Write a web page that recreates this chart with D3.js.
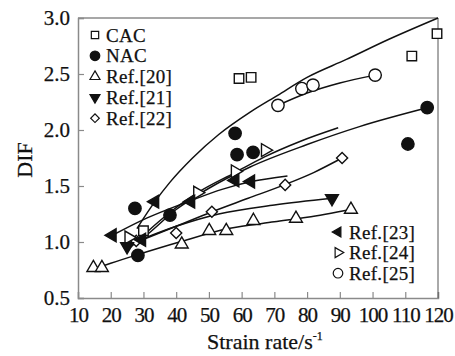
<!DOCTYPE html>
<html>
<head>
<meta charset="utf-8">
<script src="https://cdn.jsdelivr.net/npm/d3@7"></script>
<style>
  html, body { margin: 0; padding: 0; background: #fff; }
  svg text { font-family: "Liberation Serif", "Times New Roman", Tinos, "DejaVu Serif", serif !important; }
</style>
</head>
<body>
<svg id="chart" width="455" height="356"></svg>
<script>
// Axis ticks
const xTicks = [10, 20, 30, 40, 50, 60, 70, 80, 90, 100, 110, 120];
const yTicks = [0.5, 1.0, 1.5, 2.0, 2.5, 3.0];

// Measured points (strain rate, DIF)
const cacX = [30, 59.2, 62.9, 112, 119.7];
const cacY = [1.10, 2.46, 2.47, 2.66, 2.86];
const nacX = [27.4, 28.3, 38.1, 58, 58.6, 63.5, 110.8, 116.7];
const nacY = [1.30, 0.88, 1.24, 1.97, 1.78, 1.80, 1.875, 2.20];
const ref20X = [14.7, 17.3, 41.7, 50.1, 55.3, 63.6, 76.6, 93.4];
const ref20Y = [0.77, 0.77, 0.98, 1.10, 1.10, 1.19, 1.21, 1.29];
const ref21X = [25, 87.6];
const ref21Y = [0.96, 1.39];
const ref22X = [27.8, 40, 50.9, 73.3, 90.7];
const ref22Y = [1.01, 1.08, 1.27, 1.51, 1.75];
const ref23X = [20.5, 29.5, 33.5, 44.5, 58, 62.8];
const ref23Y = [1.06, 1.02, 1.36, 1.36, 1.55, 1.54];
const ref24X = [25.5, 46.5, 58, 67.2];
const ref24Y = [1.04, 1.44, 1.63, 1.82];
const ref25X = [71.1, 78.4, 81.8, 100.8];
const ref25Y = [2.22, 2.37, 2.40, 2.49];

// Fitted trend curves (strain rate, DIF)
const cacFitX = [28, 33.5, 38, 45, 53, 62.6, 71, 80, 92, 105, 120];
const cacFitY = [1.12, 1.36, 1.53, 1.75, 1.96, 2.16, 2.31, 2.47, 2.63, 2.81, 3.0];
const nacFitX = [27, 30, 40, 50, 62.6, 80, 96, 117];
const nacFitY = [0.98, 1.04, 1.29, 1.48, 1.67, 1.87, 2.03, 2.20];
const ref20FitX = [14, 20, 28, 41, 56, 70, 80, 93.4];
const ref20FitY = [0.75, 0.81, 0.885, 1.0, 1.12, 1.18, 1.22, 1.29];
const ref21FitX = [25, 30, 40, 53, 70, 87.6];
const ref21FitY = [0.97, 1.03, 1.14, 1.25, 1.33, 1.39];
const ref22FitX = [28, 40, 51, 62, 73, 82, 90.7];
const ref22FitY = [1.0, 1.14, 1.27, 1.39, 1.51, 1.62, 1.75];
const ref23FitX = [20.5, 30, 44.5, 54, 63, 74];
const ref23FitY = [1.06, 1.20, 1.37, 1.47, 1.54, 1.59];
const ref24FitX = [26, 35, 46.5, 58, 67, 78, 89.5];
const ref24FitY = [0.95, 1.19, 1.44, 1.62, 1.76, 1.90, 2.02];
const ref25FitX = [71.1, 80, 90, 100.8];
const ref25FitY = [2.22, 2.33, 2.42, 2.49];

const legendA = ["CAC", "NAC", "Ref.[20]", "Ref.[21]", "Ref.[22]"];
const legendB = ["Ref.[23]", "Ref.[24]", "Ref.[25]"];

const xTitle = "Strain rate/s";
const yTitle = "DIF";

const FONT = '"Liberation Serif", "Times New Roman", Tinos, "DejaVu Serif", serif';
const INK = "#111";

const svg = d3.select("#chart");
const W = 455, H = 356;
const m = { left: 78, top: 18, right: 17, bottom: 58 };

const x = d3.scaleLinear().domain([10, 120]).range([m.left, W - m.right]);
const y = d3.scaleLinear().domain([0.5, 3.0]).range([H - m.bottom, m.top]);

const frameColor = "#8a8a8a";

// Axes with inward ticks
const gx = svg.append("g")
  .attr("transform", `translate(0,${H - m.bottom})`)
  .call(d3.axisBottom(x).tickValues(xTicks).tickSize(-6).tickPadding(9).tickFormat(d3.format("d")));
const gy = svg.append("g")
  .attr("transform", `translate(${m.left},0)`)
  .call(d3.axisLeft(y).tickValues(yTicks).tickSize(-6).tickPadding(8).tickFormat(d3.format(".1f")));

[gx, gy].forEach(g => {
  g.attr("font-family", FONT);
  g.select(".domain").attr("stroke", frameColor).attr("stroke-width", 1.5);
  g.selectAll(".tick line").attr("stroke", frameColor).attr("stroke-width", 1.2);
  g.selectAll(".tick text")
    .attr("fill", INK)
    .attr("stroke", INK).attr("stroke-width", 0.25)
    .style("font-size", "21px");
});
gx.selectAll(".tick text").attr("letter-spacing", "-1px");

// Top and right frame lines
svg.append("line")
  .attr("x1", x(10)).attr("x2", x(120)).attr("y1", y(3.0)).attr("y2", y(3.0))
  .attr("stroke", frameColor).attr("stroke-width", 1.5);
svg.append("line")
  .attr("x1", x(120)).attr("x2", x(120)).attr("y1", y(3.0)).attr("y2", y(0.5))
  .attr("stroke", "#555").attr("stroke-width", 1);

// Axis titles
const xt = svg.append("text")
  .attr("x", 207).attr("y", 349)
  .attr("fill", INK).attr("stroke", INK).attr("stroke-width", 0.25)
  .style("font-size", "22px");
xt.append("tspan").text(xTitle);
xt.append("tspan").attr("dy", -9).style("font-size", "12px").text("-1");

svg.append("text")
  .attr("transform", `translate(32,${(y(1.5) + y(2.0)) / 2 + 2}) rotate(-90)`)
  .attr("text-anchor", "middle")
  .attr("fill", INK).attr("stroke", INK).attr("stroke-width", 0.25)
  .style("font-size", "22px")
  .text(yTitle);

// Trend curves
const line = d3.line().x(d => x(d[0])).y(d => y(d[1])).curve(d3.curveMonotoneX);
const fits = [
  [cacFitX, cacFitY], [nacFitX, nacFitY], [ref20FitX, ref20FitY], [ref21FitX, ref21FitY],
  [ref22FitX, ref22FitY], [ref23FitX, ref23FitY], [ref24FitX, ref24FitY], [ref25FitX, ref25FitY]
];
svg.append("g").selectAll("path")
  .data(fits)
  .join("path")
  .attr("d", f => line(d3.zip(f[0], f[1])))
  .attr("fill", "none")
  .attr("stroke", INK)
  .attr("stroke-width", 1.5);

// Marker styles
const styles = {
  cac:   { type: d3.symbolSquare,   size: 90,  rot: 0,   fill: "#fff" },
  nac:   { type: d3.symbolCircle,   size: 120, rot: 0,   fill: INK },
  ref20: { type: d3.symbolTriangle, size: 72,  rot: 0,   fill: "#fff" },
  ref21: { type: d3.symbolTriangle, size: 72,  rot: 180, fill: INK },
  ref22: { type: d3.symbolSquare,   size: 62,  rot: 45,  fill: "#fff" },
  ref23: { type: d3.symbolTriangle, size: 72,  rot: -90, fill: INK },
  ref24: { type: d3.symbolTriangle, size: 72,  rot: 90,  fill: "#fff" },
  ref25: { type: d3.symbolCircle,   size: 120, rot: 0,   fill: "#fff" }
};

function drawMarkers(xs, ys, st) {
  svg.append("g").selectAll("path")
    .data(d3.zip(xs, ys))
    .join("path")
    .attr("d", d3.symbol().type(st.type).size(st.size))
    .attr("transform", d => `translate(${x(d[0])},${y(d[1])}) rotate(${st.rot})`)
    .attr("fill", st.fill)
    .attr("stroke", INK)
    .attr("stroke-width", 1.4);
}

drawMarkers(ref20X, ref20Y, styles.ref20);
drawMarkers(ref22X, ref22Y, styles.ref22);
drawMarkers(ref24X, ref24Y, styles.ref24);
drawMarkers(ref25X, ref25Y, styles.ref25);
drawMarkers(cacX, cacY, styles.cac);
drawMarkers(ref21X, ref21Y, styles.ref21);
drawMarkers(ref23X, ref23Y, styles.ref23);
drawMarkers(nacX, nacY, styles.nac);

// Legends
function drawLegend(labels, keys, mx, tx, y0, dy) {
  const g = svg.append("g");
  labels.forEach((lab, i) => {
    const st = styles[keys[i]];
    const cy = y0 + i * dy;
    g.append("path")
      .attr("d", d3.symbol().type(st.type).size(st.size * 0.6))
      .attr("transform", `translate(${mx},${cy}) rotate(${st.rot})`)
      .attr("fill", st.fill)
      .attr("stroke", INK)
      .attr("stroke-width", 1.2);
    g.append("text")
      .attr("x", tx).attr("y", cy + 6.5)
      .attr("fill", INK).attr("stroke", INK).attr("stroke-width", 0.25)
      .attr("letter-spacing", "0.3px")
      .style("font-size", "19px")
      .text(lab);
  });
}
drawLegend(legendA, ["cac", "nac", "ref20", "ref21", "ref22"], 95, 106, 35, 20.8);
drawLegend(legendB, ["ref23", "ref24", "ref25"], 338, 349, 232, 20.6);
</script>
</body>
</html>
